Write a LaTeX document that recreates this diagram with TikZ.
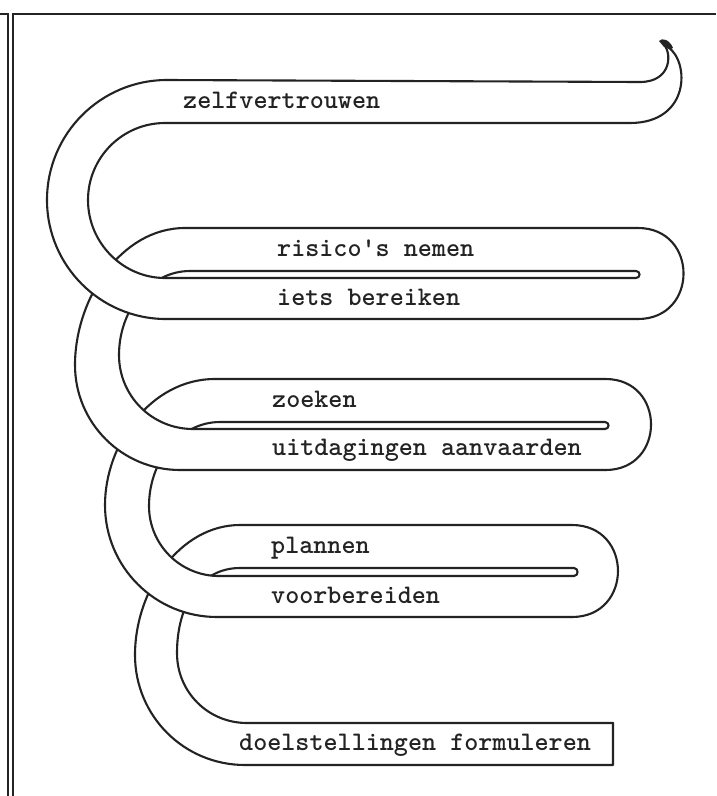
\documentclass[tikz,border=0pt]{standalone}
\definecolor{ink}{RGB}{35,35,35}
\newcommand{\lbfont}{\ttfamily\bfseries\fontsize{26.8}{30}\selectfont}
% segment 1: tip, top band, first C, lower band of first fold
\def\OutA{(662,42) .. controls (673,52) and (672,82) .. (640,82) -- (167,80) .. controls (100.7,80) and (47,133.7) .. (47,200) .. controls (47,265.7) and (100.3,319) .. (166,319) -- (638,319)}
\def\InA{(668,47) .. controls (690,62) and (690,123) .. (630,123) -- (165,123) .. controls (122.5,123) and (88,157.5) .. (88,200) .. controls (88,243) and (123,278) .. (165,278) -- (636,278)}
\def\InArev{(636,278) -- (165,278) .. controls (123,278) and (88,243) .. (88,200) .. controls (88,157.5) and (122.5,123) .. (165,123) -- (630,123) .. controls (690,123) and (690,62) .. (668,47)}
% segment 2
\def\OutB{(638,319) .. controls (698.7,319) and (698.7,228) .. (638,228) -- (185,228) .. controls (120,228) and (75,300) .. (75,365) .. controls (75,423) and (122,470) .. (180,470) -- (605.5,470)}
\def\InB{(636,278) .. controls (640.7,278) and (640.7,271) .. (636,271) -- (190,271) .. controls (150,271) and (119,310) .. (119,355) .. controls (119,396) and (152,429) .. (193,429) -- (605,429)}
\def\InBrev{(605,429) -- (193,429) .. controls (152,429) and (119,396) .. (119,355) .. controls (119,310) and (150,271) .. (190,271) -- (636,271) .. controls (640.7,271) and (640.7,278) .. (636,278)}
% segment 3
\def\OutC{(605.5,470) .. controls (666.2,470) and (666.2,379) .. (605.5,379) -- (215,379) .. controls (150,379) and (105,445) .. (105,505) .. controls (105,567) and (155,617) .. (217,617) -- (572,617)}
\def\InC{(605,429) .. controls (609.7,429) and (609.7,422) .. (605,422) -- (220,422) .. controls (180,422) and (149,461) .. (149,506) .. controls (149,544.7) and (180.3,576) .. (219,576) -- (574,576)}
\def\InCrev{(574,576) -- (219,576) .. controls (180.3,576) and (149,544.7) .. (149,506) .. controls (149,461) and (180,422) .. (220,422) -- (605,422) .. controls (609.7,422) and (609.7,429) .. (605,429)}
% segment 4: last fold's upper band, last C, box
\def\OutD{(572,617) .. controls (633.3,617) and (633.3,525) .. (572,525) -- (240,525) .. controls (180,525) and (135,590) .. (135,655) .. controls (135,716) and (184,765) .. (245,765) -- (613,765) -- (613,723)}
\def\InD{(574,576) .. controls (578.7,576) and (578.7,568) .. (574,568) -- (240,568) .. controls (200,568) and (177,605) .. (177,653) .. controls (177,692) and (208,723) .. (247,723) -- (613,723)}
\edef\FillA{\OutA\space -- \InArev\space -- cycle}
\edef\FillB{\OutB\space -- \InBrev\space -- cycle}
\edef\FillC{\OutC\space -- \InCrev\space -- cycle}
\tikzset{
  edge/.style={draw=ink, line width=2.1pt, line join=round, line cap=round},
  cover/.style={fill=white, draw=none},
  lbl/.style={anchor=base west, inner sep=0pt, text=ink, font=\lbfont},
  frame/.style={draw=ink, line width=1.7pt}
}
\begin{document}
\begin{tikzpicture}[x=1pt,y=-1pt]
\useasboundingbox (0,0) rectangle (716,796);
\fill[white] (0,0) rectangle (716,796);
% back to front
\draw[edge] \OutD;
\draw[edge] \InD;
\path[cover] \FillC;
\draw[edge] \OutC;
\draw[edge] \InC;
\path[cover] \FillB;
\draw[edge] \OutB;
\draw[edge] \InB;
\path[cover] \FillA;
\draw[edge] \OutA;
\draw[edge] \InA;
% curled tip
\fill[ink] (659,41) .. controls (662,37) and (670,40) .. (673,48) .. controls (671,50) and (667,48) .. (664,47) -- cycle;
% labels
\node[lbl] (t1) at (183,108) {zelfvertrouwen};
\node[lbl] (t2) at (277,256) {risico\textquotesingle s nemen};
\node[lbl] (t3) at (277,305) {iets bereiken};
\node[lbl] (t4) at (272,407) {zoeken};
\node[lbl] (t5) at (272,455) {uitdagingen aanvaarden};
\node[lbl] (t6) at (271,553) {plannen};
\node[lbl] (t7) at (271,603) {voorbereiden};
\node[lbl] (t8) at (239,750) {doelstellingen formuleren};
% frame
\draw[frame] (0,14) -- (8,14) -- (8,796);
\draw[frame] (716,14) -- (13,14) -- (13,796);
\end{tikzpicture}
\end{document}
